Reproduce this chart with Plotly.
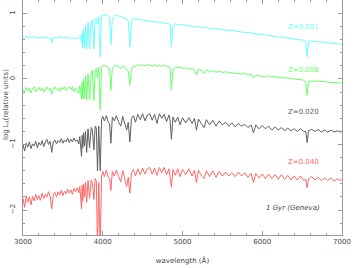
import plotly.graph_objects as go

WAVELENGTH = [
    3000, 3020, 3040, 3060, 3080, 3100, 3120, 3140, 3160, 3180,
    3200, 3220, 3240, 3260, 3280, 3300, 3320, 3340, 3360, 3380,
    3400, 3420, 3440, 3460, 3480, 3500, 3520, 3540, 3560, 3580,
    3600, 3620, 3640, 3660, 3680, 3700, 3712, 3722, 3734, 3742,
    3750, 3760, 3771, 3784, 3798, 3815, 3835, 3855, 3870, 3889,
    3905, 3920, 3934, 3950, 3968, 3985, 4000, 4020, 4045, 4070,
    4085, 4102, 4120, 4145, 4170, 4200, 4226, 4250, 4275, 4300,
    4320, 4340, 4360, 4385, 4410, 4440, 4470, 4500, 4530, 4560,
    4590, 4620, 4650, 4680, 4710, 4740, 4770, 4800, 4830, 4845,
    4861, 4880, 4910, 4940, 4970, 5000, 5040, 5080, 5120, 5150,
    5175, 5200, 5240, 5270, 5300, 5340, 5380, 5420, 5460, 5500,
    5540, 5580, 5620, 5660, 5700, 5740, 5780, 5820, 5860, 5890,
    5920, 5960, 6000, 6040, 6080, 6120, 6160, 6200, 6240, 6280,
    6320, 6360, 6400, 6440, 6480, 6520, 6545, 6563, 6580, 6620,
    6660, 6700, 6740, 6780, 6820, 6860, 6900, 6940, 6980, 7000,
]

LOG_L_Z0001 = [
    0.64, 0.63, 0.65, 0.62, 0.64, 0.63, 0.65, 0.63, 0.62, 0.64,
    0.63, 0.65, 0.62, 0.64, 0.63, 0.64, 0.62, 0.63, 0.55, 0.63,
    0.64, 0.62, 0.64, 0.63, 0.65, 0.62, 0.63, 0.64, 0.62, 0.63,
    0.62, 0.63, 0.61, 0.62, 0.61, 0.63, 0.64, 0.66, 0.55, 0.70,
    0.47, 0.76, 0.48, 0.82, 0.46, 0.86, 0.46, 0.89, 0.90, 0.46,
    0.91, 0.93, 0.84, 0.95, 0.34, 0.96, 0.97, 0.98, 0.98, 0.96,
    0.92, 0.52, 0.93, 0.96, 0.97, 0.96, 0.95, 0.95, 0.94, 0.92,
    0.88, 0.49, 0.88, 0.92, 0.92, 0.91, 0.90, 0.90, 0.89, 0.89,
    0.88, 0.88, 0.87, 0.87, 0.86, 0.86, 0.85, 0.85, 0.84, 0.81,
    0.49, 0.81, 0.84, 0.83, 0.83, 0.82, 0.82, 0.81, 0.81, 0.80,
    0.79, 0.80, 0.79, 0.78, 0.78, 0.77, 0.77, 0.76, 0.76, 0.75,
    0.75, 0.74, 0.74, 0.73, 0.72, 0.72, 0.71, 0.71, 0.70, 0.69,
    0.69, 0.68, 0.68, 0.67, 0.66, 0.66, 0.65, 0.64, 0.64, 0.63,
    0.62, 0.62, 0.61, 0.60, 0.60, 0.59, 0.57, 0.34, 0.57, 0.58,
    0.57, 0.57, 0.56, 0.56, 0.55, 0.55, 0.54, 0.54, 0.53, 0.53,
]

LOG_L_Z0008 = [
    -0.16, -0.20, -0.13, -0.18, -0.14, -0.21, -0.15, -0.12, -0.19, -0.15,
    -0.13, -0.18, -0.14, -0.20, -0.15, -0.12, -0.17, -0.14, -0.23, -0.15,
    -0.12, -0.17, -0.14, -0.19, -0.13, -0.16, -0.11, -0.18, -0.14, -0.12,
    -0.16, -0.12, -0.19, -0.14, -0.18, -0.22, -0.10, -0.16, -0.30, -0.05,
    -0.30, 0.00, -0.30, 0.05, -0.32, 0.08, -0.32, 0.11, 0.13, -0.33,
    0.14, 0.16, 0.02, 0.18, -0.47, 0.19, 0.20, 0.21, 0.19, 0.18,
    0.15, -0.17, 0.17, 0.20, 0.21, 0.19, 0.16, 0.20, 0.18, 0.14,
    0.12, -0.09, 0.14, 0.20, 0.19, 0.22, 0.20, 0.22, 0.20, 0.22,
    0.21, 0.20, 0.22, 0.19, 0.21, 0.19, 0.21, 0.19, 0.19, 0.16,
    -0.17, 0.15, 0.18, 0.17, 0.18, 0.16, 0.17, 0.15, 0.16, 0.14,
    0.06, 0.15, 0.12, 0.09, 0.14, 0.11, 0.13, 0.10, 0.12, 0.10,
    0.11, 0.09, 0.10, 0.08, 0.09, 0.07, 0.09, 0.06, 0.08, 0.02,
    0.06, 0.05, 0.05, 0.03, 0.05, 0.03, 0.04, 0.02, 0.02, 0.02,
    0.01, 0.01, 0.00, 0.00, -0.01, -0.02, -0.04, -0.25, -0.04, -0.03,
    -0.03, -0.03, -0.04, -0.04, -0.05, -0.05, -0.05, -0.06, -0.06, -0.06,
]

LOG_L_Z0020 = [
    -1.00, -1.10, -0.98, -1.04, -0.96, -1.06, -0.99, -1.02, -0.95, -1.05,
    -0.97, -1.01, -0.94, -1.03, -0.96, -0.92, -1.00, -0.95, -1.12, -0.96,
    -0.93, -0.99, -0.94, -0.97, -0.91, -0.98, -0.93, -0.96, -0.90, -0.97,
    -0.92, -0.96, -0.90, -0.95, -0.93, -0.99, -0.88, -1.00, -1.18, -0.86,
    -1.05, -0.82, -1.02, -0.80, -1.12, -0.76, -1.05, -0.74, -0.78, -1.08,
    -0.72, -0.75, -1.40, -0.72, -1.40, -0.62, -0.57, -0.64, -0.56, -0.66,
    -0.68, -0.98, -0.58, -0.64, -0.56, -0.66, -0.72, -0.57, -0.68, -0.78,
    -0.66, -0.96, -0.60, -0.56, -0.66, -0.54, -0.62, -0.53, -0.64, -0.55,
    -0.53, -0.63, -0.54, -0.68, -0.53, -0.60, -0.54, -0.65, -0.55, -0.64,
    -0.92, -0.58, -0.66, -0.58, -0.70, -0.59, -0.67, -0.59, -0.68, -0.60,
    -0.78, -0.61, -0.69, -0.74, -0.62, -0.70, -0.63, -0.72, -0.64, -0.70,
    -0.66, -0.72, -0.67, -0.73, -0.68, -0.72, -0.69, -0.74, -0.70, -0.82,
    -0.70, -0.76, -0.71, -0.76, -0.72, -0.78, -0.73, -0.78, -0.74, -0.79,
    -0.75, -0.79, -0.76, -0.80, -0.76, -0.80, -0.80, -0.97, -0.79, -0.77,
    -0.80, -0.77, -0.81, -0.78, -0.81, -0.78, -0.81, -0.79, -0.81, -0.79,
]

LOG_L_Z0040 = [
    -1.82, -1.96, -1.78, -1.88, -1.80, -1.92, -1.79, -1.86, -1.76, -1.84,
    -1.78, -1.85, -1.74, -1.82, -1.76, -1.80, -1.72, -1.79, -1.98, -1.76,
    -1.73, -1.80, -1.72, -1.77, -1.70, -1.78, -1.71, -1.75, -1.68, -1.74,
    -1.69, -1.76, -1.67, -1.72, -1.66, -1.74, -1.64, -1.78, -1.98, -1.62,
    -1.86, -1.60, -1.80, -1.58, -1.88, -1.55, -1.82, -1.54, -1.58, -1.84,
    -1.52, -1.56, -2.60, -1.58, -2.60, -1.48, -1.41, -1.49, -1.39, -1.50,
    -1.52, -1.70, -1.41, -1.48, -1.39, -1.49, -1.57, -1.40, -1.50, -1.64,
    -1.50, -1.74, -1.43, -1.38, -1.48, -1.37, -1.46, -1.36, -1.45, -1.37,
    -1.35, -1.45, -1.36, -1.47, -1.35, -1.43, -1.35, -1.46, -1.37, -1.48,
    -1.65, -1.38, -1.47, -1.37, -1.49, -1.38, -1.46, -1.37, -1.48, -1.39,
    -1.58, -1.39, -1.48, -1.52, -1.40, -1.49, -1.40, -1.50, -1.41, -1.48,
    -1.42, -1.48, -1.43, -1.49, -1.42, -1.48, -1.43, -1.50, -1.44, -1.58,
    -1.44, -1.51, -1.45, -1.52, -1.45, -1.52, -1.46, -1.53, -1.46, -1.53,
    -1.47, -1.54, -1.48, -1.54, -1.48, -1.55, -1.53, -1.66, -1.52, -1.49,
    -1.54, -1.50, -1.55, -1.51, -1.55, -1.51, -1.56, -1.52, -1.55, -1.52,
]

SERIES = [
    ("Z=0.001", LOG_L_Z0001, "#66ffff", 0.79),
    ("Z=0.008", LOG_L_Z0008, "#66ff66", 0.13),
    ("Z=0.020", LOG_L_Z0020, "#606060", -0.50),
    ("Z=0.040", LOG_L_Z0040, "#ff6666", -1.27),
]
NOTE = "1 Gyr (Geneva)"

for _, vals, _, _ in SERIES:
    assert len(vals) == len(WAVELENGTH), len(vals)

FONT = "DejaVu Sans"
fig = go.Figure()
for name, vals, color, ylab in SERIES:
    fig.add_trace(go.Scatter(x=WAVELENGTH, y=vals, mode="lines", name=name,
                             line=dict(color=color, width=1), showlegend=False))
    fig.add_annotation(x=6520, y=ylab, text=name, showarrow=False,
                       font=dict(family=FONT, size=7, color=color),
                       xanchor="center", yanchor="middle")

fig.add_annotation(x=6380, y=-1.97, text="<i>" + NOTE + "</i>", showarrow=False,
                   font=dict(family=FONT, size=7, color="#444"),
                   xanchor="center", yanchor="middle")

fig.add_annotation(xref="paper", yref="paper", x=0, y=0.553, xshift=-17,
                   text="log L<sub>λ</sub>(relative units)", textangle=-90,
                   showarrow=False, font=dict(family=FONT, size=7, color="#444"),
                   xanchor="center", yanchor="middle")

axis_common = dict(showline=True, linecolor="#999", linewidth=1, mirror="allticks",
                   ticks="inside", tickcolor="#999", ticklen=4, showgrid=False,
                   zeroline=False, automargin=False, ticklabeloverflow="allow",
                   tickfont=dict(family=FONT, size=7, color="#444"))

fig.update_xaxes(range=[3000, 7000], tickmode="linear", tick0=3000, dtick=1000,
                 minor=dict(ticks="inside", dtick=200, ticklen=2, tickcolor="#999"),
                 title=dict(text="wavelength (Å)", font=dict(family=FONT, size=7, color="#444"),
                            standoff=12),
                 **axis_common)
fig.update_yaxes(range=[-2.38, 1.205], tickmode="linear", tick0=0, dtick=1,
                 minor=dict(ticks="inside", dtick=0.2, ticklen=2, tickcolor="#999"),
                 tickangle=-90, ticklabelstandoff=4,
                 **axis_common)

fig.update_layout(width=354, height=268, margin=dict(l=23, r=12, t=0, b=33),
                  paper_bgcolor="white", plot_bgcolor="white")

fig.write_html("out.html", config={"displayModeBar": False},
               post_script="document.body.style.margin='0';document.body.style.padding='0';")
